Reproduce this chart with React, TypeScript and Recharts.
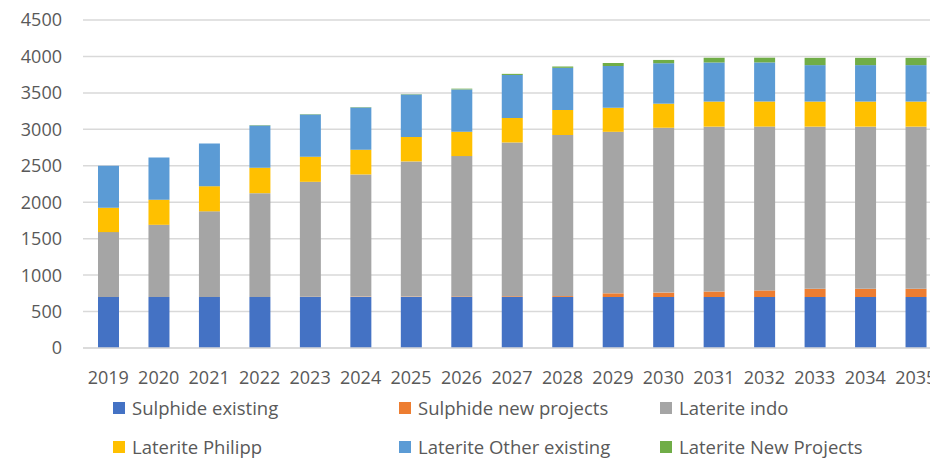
import React from "react";
import { BarChart, Bar, XAxis, YAxis, CartesianGrid, Legend } from "recharts";

const years = ["2019","2020","2021","2022","2023","2024","2025","2026","2027","2028","2029","2030","2031","2032","2033","2034","2035"];
const sulphideExisting = [700,700,700,700,700,700,700,700,700,700,700,700,700,700,700,700,700];
const sulphideNew = [0,0,0,0,3,5,5,8,10,12,50,60,75,90,112,112,112];
const lateriteIndo = [890,990,1175,1424,1577,1676,1855,1925,2110,2210,2216,2262,2262,2248,2225,2225,2225];
const lateritePhilipp = [335,345,345,350,345,340,335,335,336,344,330,330,344,344,344,344,344];
const lateriteOther = [575,580,585,580,578,578,582,580,590,578,573,555,536,536,500,500,500];
const lateriteNew = [0,0,0,5,5,5,5,10,15,18,41,45,65,65,100,100,100];
const yTicks = [0,500,1000,1500,2000,2500,3000,3500,4000,4500];

const series = [
  { key: "se", name: "Sulphide existing", color: "#4472C4", values: sulphideExisting },
  { key: "sn", name: "Sulphide new projects", color: "#ED7D31", values: sulphideNew },
  { key: "li", name: "Laterite indo", color: "#A5A5A5", values: lateriteIndo },
  { key: "lp", name: "Laterite Philipp", color: "#FFC000", values: lateritePhilipp },
  { key: "lo", name: "Laterite Other existing", color: "#5B9BD5", values: lateriteOther },
  { key: "ln", name: "Laterite New Projects", color: "#70AD47", values: lateriteNew },
];

const data = years.map((y, i) => {
  const row: any = { year: y };
  series.forEach((s) => { row[s.key] = s.values[i]; });
  return row;
});

const FONT = "'Open Sans', sans-serif";
const legendCols = [113, 399, 660];

const LegendContent = () => (
  <div style={{ position: "relative", width: 930, height: 62, fontFamily: FONT, fontSize: 18.5, color: "#595959" }}>
    {series.map((s, i) => {
      const col = i % 3;
      const row = Math.floor(i / 3);
      return (
        <div key={s.key} style={{ position: "absolute", left: legendCols[col], top: row * 39, display: "flex", alignItems: "center", height: 24, lineHeight: "24px", whiteSpace: "nowrap" }}>
          <span style={{ display: "inline-block", width: 12, height: 12, background: s.color, marginRight: 7 }} />
          <span>{s.name}</span>
        </div>
      );
    })}
  </div>
);

export default function App() {
  return (
    <div style={{ position: "absolute", left: 0, top: 0, width: 930, height: 460, overflow: "hidden", background: "#fff" }}>
      <BarChart
        width={960}
        height={460}
        data={data}
        margin={{ top: 20, right: 19, left: 0, bottom: 82 }}
        barSize={21}
      >
        <CartesianGrid vertical={false} stroke="#d9d9d9" strokeWidth={1.5} />
        <XAxis
          dataKey="year"
          axisLine={{ stroke: "#d9d9d9", strokeWidth: 1.5 }}
          tickLine={false}
          tickMargin={17}
          height={30}
          interval={0}
          tick={{ fill: "#595959", fontSize: 18, fontFamily: FONT }}
        />
        <YAxis
          domain={[0, 4500]}
          ticks={yTicks}
          axisLine={false}
          tickLine={false}
          width={83}
          tickMargin={15}
          tick={{ fill: "#595959", fontSize: 18, fontFamily: FONT }}
        />
        <Legend
          layout="vertical"
          verticalAlign="middle"
          align="center"
          content={<LegendContent />}
          wrapperStyle={{ position: "absolute", left: 0, top: 396, width: 930, height: 62 }}
        />
        {series.map((s) => (
          <Bar key={s.key} dataKey={s.key} name={s.name} stackId="a" fill={s.color} isAnimationActive={false} />
        ))}
      </BarChart>
    </div>
  );
}
